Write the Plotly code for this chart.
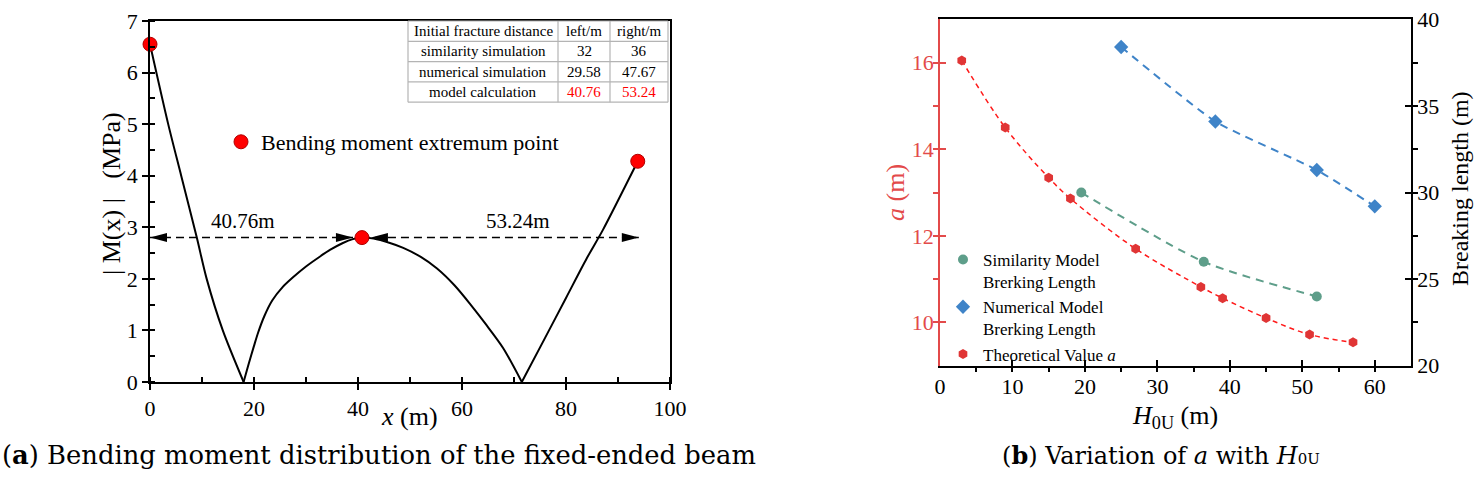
import plotly.graph_objects as go

# ---------------- Panel (a): bending moment of the fixed-ended beam ----------------
beam_x = [0, 3.5, 6, 9, 10.9, 14, 18, 19.0, 20.0, 20.8, 22.0, 23.5, 25.5, 27.5, 30, 32.5, 34.6, 37, 39, 40.76,
          43, 46, 48.7, 52, 55.2, 58.5, 61.5, 64.5, 67.9, 71.5, 76, 80, 84, 87.1, 93.8]
moment_abs = [6.55, 5.0, 4.0, 2.8, 2.0, 1.0, 0.0, 0.36, 0.7, 0.96, 1.28, 1.58, 1.84, 2.03, 2.24, 2.42, 2.56, 2.69, 2.77, 2.8,
              2.78, 2.7, 2.6, 2.43, 2.2, 1.88, 1.52, 1.13, 0.66, 0.0, 0.86, 1.63, 2.4, 2.95, 4.28]
extremum_x = [0, 40.76, 93.8]
extremum_y = [6.55, 2.8, 4.28]
left_span = 40.76
right_span = 53.24

table_header = ["Initial fracture distance", "left/m", "right/m"]
table_method = ["similarity simulation", "numerical simulation", "model calculation"]
table_left = ["32", "29.58", "40.76"]
table_right = ["36", "47.67", "53.24"]

# ---------------- Panel (b): variation of a with H0U ----------------
sim_h = [19.5, 36.4, 52]
sim_len = [30.0, 26.0, 24.0]
num_h = [25, 38, 52, 60]
num_len = [38.4, 34.1, 31.3, 29.2]
theo_h = [3, 9, 15, 18, 27, 36, 39, 45, 51, 57]
theo_a = [16.05, 14.5, 13.34, 12.86, 11.7, 10.82, 10.56, 10.1, 9.72, 9.54]

W, H = 1482, 482
SERIF = "Liberation Serif"
RED_AX = "#E34A4A"
TEAL = "#5E9E8A"
BLUE = "#3F84C8"
RED_PT = "#E03535"


def px_x(p):
    return p / W


def px_y(p):
    return 1 - p / H


fig = go.Figure()

# bending moment curve: split at the zero crossings so each branch is smooth but corners stay sharp
zero_idx = [i for i, v in enumerate(moment_abs) if v == 0]
cuts = [0] + zero_idx + [len(moment_abs) - 1]
for a, b in zip(cuts[:-1], cuts[1:]):
    fig.add_trace(go.Scatter(x=beam_x[a:b + 1], y=moment_abs[a:b + 1], mode="lines",
                             line=dict(color="black", width=2, shape="spline", smoothing=0.8),
                             showlegend=False, hoverinfo="skip", xaxis="x", yaxis="y"))

# dashed dimension lines
mid_x, mid_y = extremum_x[1], extremum_y[1]
fig.add_trace(go.Scatter(x=[0, mid_x], y=[mid_y, mid_y], mode="lines",
                         line=dict(color="black", width=1.5, dash="8px,5px"),
                         showlegend=False, hoverinfo="skip", xaxis="x", yaxis="y"))
fig.add_trace(go.Scatter(x=[mid_x, mid_x + right_span], y=[mid_y, mid_y], mode="lines",
                         line=dict(color="black", width=1.5, dash="8px,5px"),
                         showlegend=False, hoverinfo="skip", xaxis="x", yaxis="y"))

# extremum points
fig.add_trace(go.Scatter(x=extremum_x, y=extremum_y, mode="markers",
                         name="Bending moment extremum point",
                         marker=dict(color="#FF0000", size=14,
                                     line=dict(color="#B00000", width=1)),
                         cliponaxis=False, legend="legend2", xaxis="x", yaxis="y"))

# panel (b): dashed fit lines (no legend) + markers (legend)
fig.add_trace(go.Scatter(x=sim_h, y=sim_len, mode="lines", showlegend=False, hoverinfo="skip",
                         line=dict(color=TEAL, width=2, dash="8px,6px", shape="spline", smoothing=0.7),
                         xaxis="x2", yaxis="y3"))
fig.add_trace(go.Scatter(x=num_h, y=num_len, mode="lines", showlegend=False, hoverinfo="skip",
                         line=dict(color=BLUE, width=2, dash="8px,6px", shape="spline", smoothing=0.5),
                         xaxis="x2", yaxis="y3"))
fig.add_trace(go.Scatter(x=theo_h, y=theo_a, mode="lines", showlegend=False, hoverinfo="skip",
                         line=dict(color="#FF1A1A", width=1.5, dash="5px,4px", shape="spline"),
                         xaxis="x2", yaxis="y2"))
fig.add_trace(go.Scatter(x=sim_h, y=sim_len, mode="markers",
                         name="Similarity Model<br>Brerking Length",
                         marker=dict(symbol="circle", size=10, color=TEAL),
                         xaxis="x2", yaxis="y3", legend="legend"))
fig.add_trace(go.Scatter(x=num_h, y=num_len, mode="markers",
                         name="Numerical Model<br>Brerking Length",
                         marker=dict(symbol="diamond", size=11, color=BLUE),
                         xaxis="x2", yaxis="y3", legend="legend"))
fig.add_trace(go.Scatter(x=theo_h, y=theo_a, mode="markers",
                         name="Theoretical Value <i>a</i>",
                         marker=dict(symbol="hexagon", size=10, color=RED_PT),
                         xaxis="x2", yaxis="y2", legend="legend"))

# arrow heads (pixel-size paths anchored at data positions)
arrow_specs = [
    (0, "M0,0 L17,4.5 L17,-4.5 Z"),
    (mid_x, "M-9,0 L-26,4.5 L-26,-4.5 Z"),
    (mid_x, "M9,0 L26,4.5 L26,-4.5 Z"),
    (mid_x + right_span, "M0,0 L-17,4.5 L-17,-4.5 Z"),
]
shapes = []
for ax_, path in arrow_specs:
    shapes.append(dict(type="path", xref="x", yref="y", xsizemode="pixel", ysizemode="pixel",
                       xanchor=ax_, yanchor=mid_y, path=path,
                       fillcolor="black", line=dict(color="black", width=0)))

annotations = []

# table drawn as a grid of gray lines with centered texts
col_edges = [408, 558, 610, 668]
row_top, row_h = 21, 20.3
table_rows = [table_header] + [list(r) for r in zip(table_method, table_left, table_right)]
n_rows = len(table_rows)
for i in range(n_rows + 1):
    yy = px_y(row_top + i * row_h)
    shapes.append(dict(type="line", xref="paper", yref="paper", x0=px_x(col_edges[0]),
                       x1=px_x(col_edges[-1]), y0=yy, y1=yy,
                       line=dict(color="#B4B4B4", width=1.2)))
for c in col_edges:
    shapes.append(dict(type="line", xref="paper", yref="paper", x0=px_x(c), x1=px_x(c),
                       y0=px_y(row_top), y1=px_y(row_top + n_rows * row_h),
                       line=dict(color="#B4B4B4", width=1.2)))
for i, row in enumerate(table_rows):
    for j, txt in enumerate(row):
        red = (i == n_rows - 1 and j > 0)
        annotations.append(dict(
            x=px_x((col_edges[j] + col_edges[j + 1]) / 2), y=px_y(row_top + (i + 0.5) * row_h),
            xref="paper", yref="paper", xanchor="center", yanchor="middle", showarrow=False,
            text=txt, font=dict(family=SERIF, size=15, color="#FF0000" if red else "black")))

title_font = dict(family=SERIF, size=26, color="black")
C = dict(xref="paper", yref="paper", xanchor="center", yanchor="middle", showarrow=False)
annotations += [
    dict(x=17.9, y=3.12, xref="x", yref="y", text=f"{left_span:.2f}m", showarrow=False,
         xanchor="center", yanchor="middle", font=dict(family=SERIF, size=21, color="black")),
    dict(x=70.8, y=3.12, xref="x", yref="y", text=f"{right_span:.2f}m", showarrow=False,
         xanchor="center", yanchor="middle", font=dict(family=SERIF, size=21, color="black")),
    # axis titles
    dict(x=px_x(409), y=px_y(416), text="<i>x</i> (m)", font=title_font, **C),
    dict(x=px_x(111), y=px_y(194), textangle=-90,
         text="|&nbsp;M(x)&nbsp;|&nbsp;&nbsp;&nbsp;(MPa)", font=title_font, **C),
    dict(x=px_x(1175), y=px_y(417), text="<i>H</i><sub>0U</sub> (m)", font=title_font, **C),
    dict(x=px_x(895), y=px_y(193), textangle=-90, text="<i>a</i> (m)",
         font=dict(family=SERIF, size=26, color=RED_AX), **C),
    dict(x=px_x(1460), y=px_y(189), textangle=-90, text="Breaking length (m)",
         font=dict(family=SERIF, size=24, color="black"), **C),
    # captions
    dict(x=px_x(0), y=px_y(455), xref="paper", yref="paper", xanchor="left", yanchor="middle",
         text="(<b>a</b>) Bending moment distribution of the fixed-ended beam", showarrow=False,
         font=dict(family="DejaVu Serif", size=25.8, color="black")),
    dict(x=px_x(1000), y=px_y(455), xref="paper", yref="paper", xanchor="left", yanchor="middle",
         text="(<b>b</b>) Variation of <i>a</i> with <i>H</i><span style='font-size:15px'>0U</span>",
         showarrow=False, font=dict(family="DejaVu Serif", size=24, color="black")),
]

tick_font = dict(family=SERIF, size=22, color="black")
common = dict(showgrid=False, zeroline=False, automargin=False, tickwidth=1.5)

fig.update_layout(
    template="none",
    width=W, height=H, autosize=False,
    margin=dict(l=0, r=0, t=0, b=0, pad=0, autoexpand=False),
    paper_bgcolor="white", plot_bgcolor="white",
    font=dict(family=SERIF, color="black"),
    shapes=shapes,
    annotations=annotations,
    xaxis=dict(domain=[px_x(150), px_x(670)], range=[0, 100], dtick=20, anchor="y",
               showline=True, linecolor="black", linewidth=1.8, mirror=True,
               ticks="outside", ticklen=6, tickcolor="black",
               minor=dict(dtick=10, ticks="inside", ticklen=5, tickwidth=1.5, tickcolor="black"),
               tickfont=tick_font, **common),
    yaxis=dict(domain=[px_y(382), px_y(21)], range=[0, 7], dtick=1, anchor="x",
               showline=True, linecolor="black", linewidth=1.8, mirror=True,
               ticks="outside", ticklen=6, tickcolor="black",
               minor=dict(dtick=0.5, ticks="inside", ticklen=5, tickwidth=1.5, tickcolor="black"),
               tickfont=tick_font, **common),
    xaxis2=dict(domain=[px_x(940), px_x(1411)], range=[0, 65], dtick=10, anchor="y2",
                showline=True, linecolor="black", linewidth=1.5, mirror=True,
                ticks="inside", ticklen=6, tickcolor="black",
                minor=dict(dtick=5, ticks="outside", ticklen=5, tickwidth=1.5, tickcolor="black"),
                tickfont=tick_font, **common),
    yaxis2=dict(domain=[px_y(365.7), px_y(19.3)], range=[9, 17], dtick=2, anchor="x2",
                showline=True, linecolor=RED_AX, linewidth=1.5,
                ticks="inside", ticklen=6, tickcolor=RED_AX,
                minor=dict(dtick=1, ticks="outside", ticklen=5, tickwidth=1.5, tickcolor=RED_AX),
                tickfont=dict(family=SERIF, size=22, color=RED_AX), **common),
    yaxis3=dict(overlaying="y2", side="right", range=[20, 40], dtick=5, anchor="x2",
                showline=True, linecolor="black", linewidth=1.5,
                ticks="inside", ticklen=6, tickcolor="black",
                minor=dict(dtick=2.5, ticks="outside", ticklen=5, tickwidth=1.5, tickcolor="black"),
                tickfont=tick_font, **common),
    legend=dict(x=px_x(943), y=px_y(242), xanchor="left", yanchor="top",
                bgcolor="rgba(0,0,0,0)", font=dict(family=SERIF, size=17, color="black"),
                valign="top", tracegroupgap=0),
    legend2=dict(x=px_x(221), y=px_y(142), xanchor="left", yanchor="middle",
                 bgcolor="rgba(0,0,0,0)", font=dict(family=SERIF, size=22, color="black")),
)

fig.write_html("out.html")
